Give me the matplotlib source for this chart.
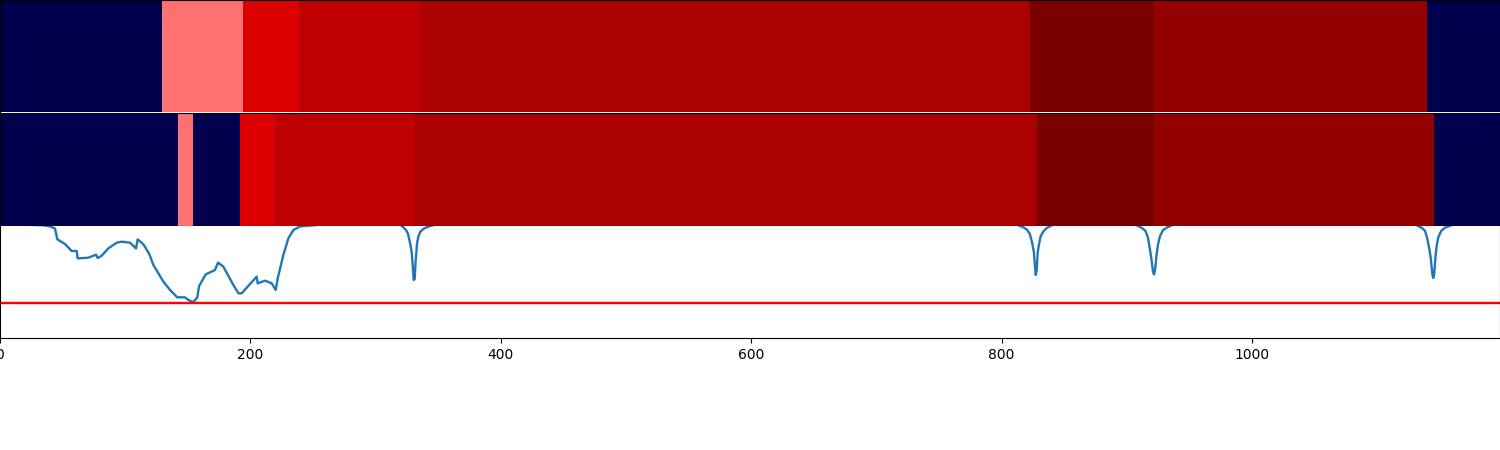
#!/usr/bin/env python

import numpy as np
import matplotlib
matplotlib.use('Agg')
import matplotlib.pyplot as plt
from matplotlib.colors import LinearSegmentedColormap

# class boundaries and colormap values for the two strips
edges1 = [0, 129.4, 194, 239, 336, 823, 921, 1140, 1198]
vals1 = [0.0, 0.64, 0.816, 0.869, 0.91, 1.0, 0.952, 0.0]

edges2 = [0, 142, 154, 192, 220, 331, 828, 922, 1145, 1198]
vals2 = [0.0, 0.64, 0.0, 0.816, 0.869, 0.91, 1.0, 0.952, 0.0]

# probability trace
trace_x = [0, 20, 34.6, 40, 43.9, 45.8, 51.9, 57.2, 61.2, 62, 70.6, 76.7, 78, 81.2, 86.5,
  93.2, 97.2, 103.8, 108.6, 110, 114.5, 119, 122.5, 130.5, 135.8, 141.6, 147.8,
  150.4, 154.4, 157.6, 159, 164.3, 171.7, 174.1, 178.4, 186.4, 190.4, 193, 205,
  205.8, 211.7, 217, 220.2, 221.8, 226.3, 230.3, 234.3, 239.6, 255.6,
  319.5, 321.9, 324.3, 325.9, 327.5, 328.8, 329.9, 330.4, 331.2, 331.9, 332.3, 333.1,
  334.1, 335.5, 337.9, 341.1, 347.4,
  812, 816.9, 820.1, 822.5, 824.4, 825.7, 826.5, 827.2, 828, 828.8, 830, 831.2, 833.6, 836, 840.8,
  907, 912.1, 914.9, 916.9, 918.5, 919.7, 920.9, 921.7, 922.5, 923.7, 924.9, 926.5,
  928.9, 932.1, 936.9,
  1130.6, 1135.8, 1138.2, 1139.8, 1141.4, 1142.7, 1143.8, 1144.6, 1145.4, 1146.4, 1147.4,
  1148.8, 1151, 1154.2, 1160.6, 1198]
trace_y = [1.011, 1.011, 1.006, 0.996, 0.978, 0.881, 0.839, 0.777, 0.777, 0.711, 0.717, 0.744, 0.714, 0.735, 0.800,
  0.851, 0.860, 0.851, 0.800, 0.881, 0.836, 0.756, 0.652, 0.503, 0.429, 0.363, 0.363,
  0.339, 0.321, 0.363, 0.464, 0.568, 0.607, 0.673, 0.637, 0.473, 0.399, 0.399, 0.548,
  0.488, 0.512, 0.488, 0.429, 0.533, 0.741, 0.890, 0.964, 0.996, 1.011,
  1.011, 0.991, 0.964, 0.929, 0.848, 0.768, 0.607, 0.518, 0.527, 0.679, 0.732, 0.848,
  0.902, 0.946, 0.973, 0.991, 1.011,
  1.011, 0.991, 0.969, 0.929, 0.848, 0.768, 0.652, 0.563, 0.607, 0.768, 0.848, 0.911, 0.955, 0.982, 1.011,
  1.011, 0.982, 0.955, 0.893, 0.786, 0.696, 0.589, 0.567, 0.607, 0.741, 0.839, 0.911,
  0.964, 0.987, 1.011,
  1.011, 0.982, 0.955, 0.893, 0.804, 0.714, 0.589, 0.536, 0.563, 0.714, 0.821,
  0.902, 0.955, 0.987, 1.011, 1.011]
threshold = 0.31

strip_cmap = LinearSegmentedColormap.from_list('strip', [
  (0.0, 0.0, 0.3), (0.0, 0.0, 1.0), (1.0, 1.0, 1.0), (1.0, 0.0, 0.0), (0.48, 0.0, 0.0)])

fig, (ax1, ax2, ax3) = plt.subplots(3, 1, figsize=(15, 4.5), sharex=True)
# pixel rows of the three panels, with a one pixel gap under the first
ax1.set_position([0, 338 / 450, 1, 112 / 450])
ax2.set_position([0, 224.5 / 450, 1, 112.5 / 450])
ax3.set_position([0, 112 / 450, 1, 112 / 450])

for ax, edges, vals in ((ax1, edges1, vals1), (ax2, edges2, vals2)):
  ax.pcolormesh(edges, [0, 1], [vals], cmap=strip_cmap, vmin=0, vmax=1)
  ax.set_yticks([])
  ax.tick_params(axis='x', length=0, labelbottom=False)
ax1.spines['bottom'].set_visible(False)
ax3.spines['top'].set_visible(False)

ax3.plot(trace_x, trace_y, lw=1.7)
ax3.axhline(threshold, c='red', lw=1.7)
ax3.set_xlim(0, 1198)
ax3.set_ylim(0, 1)
ax3.set_yticks([])

fig.savefig('out.png', dpi=100)
